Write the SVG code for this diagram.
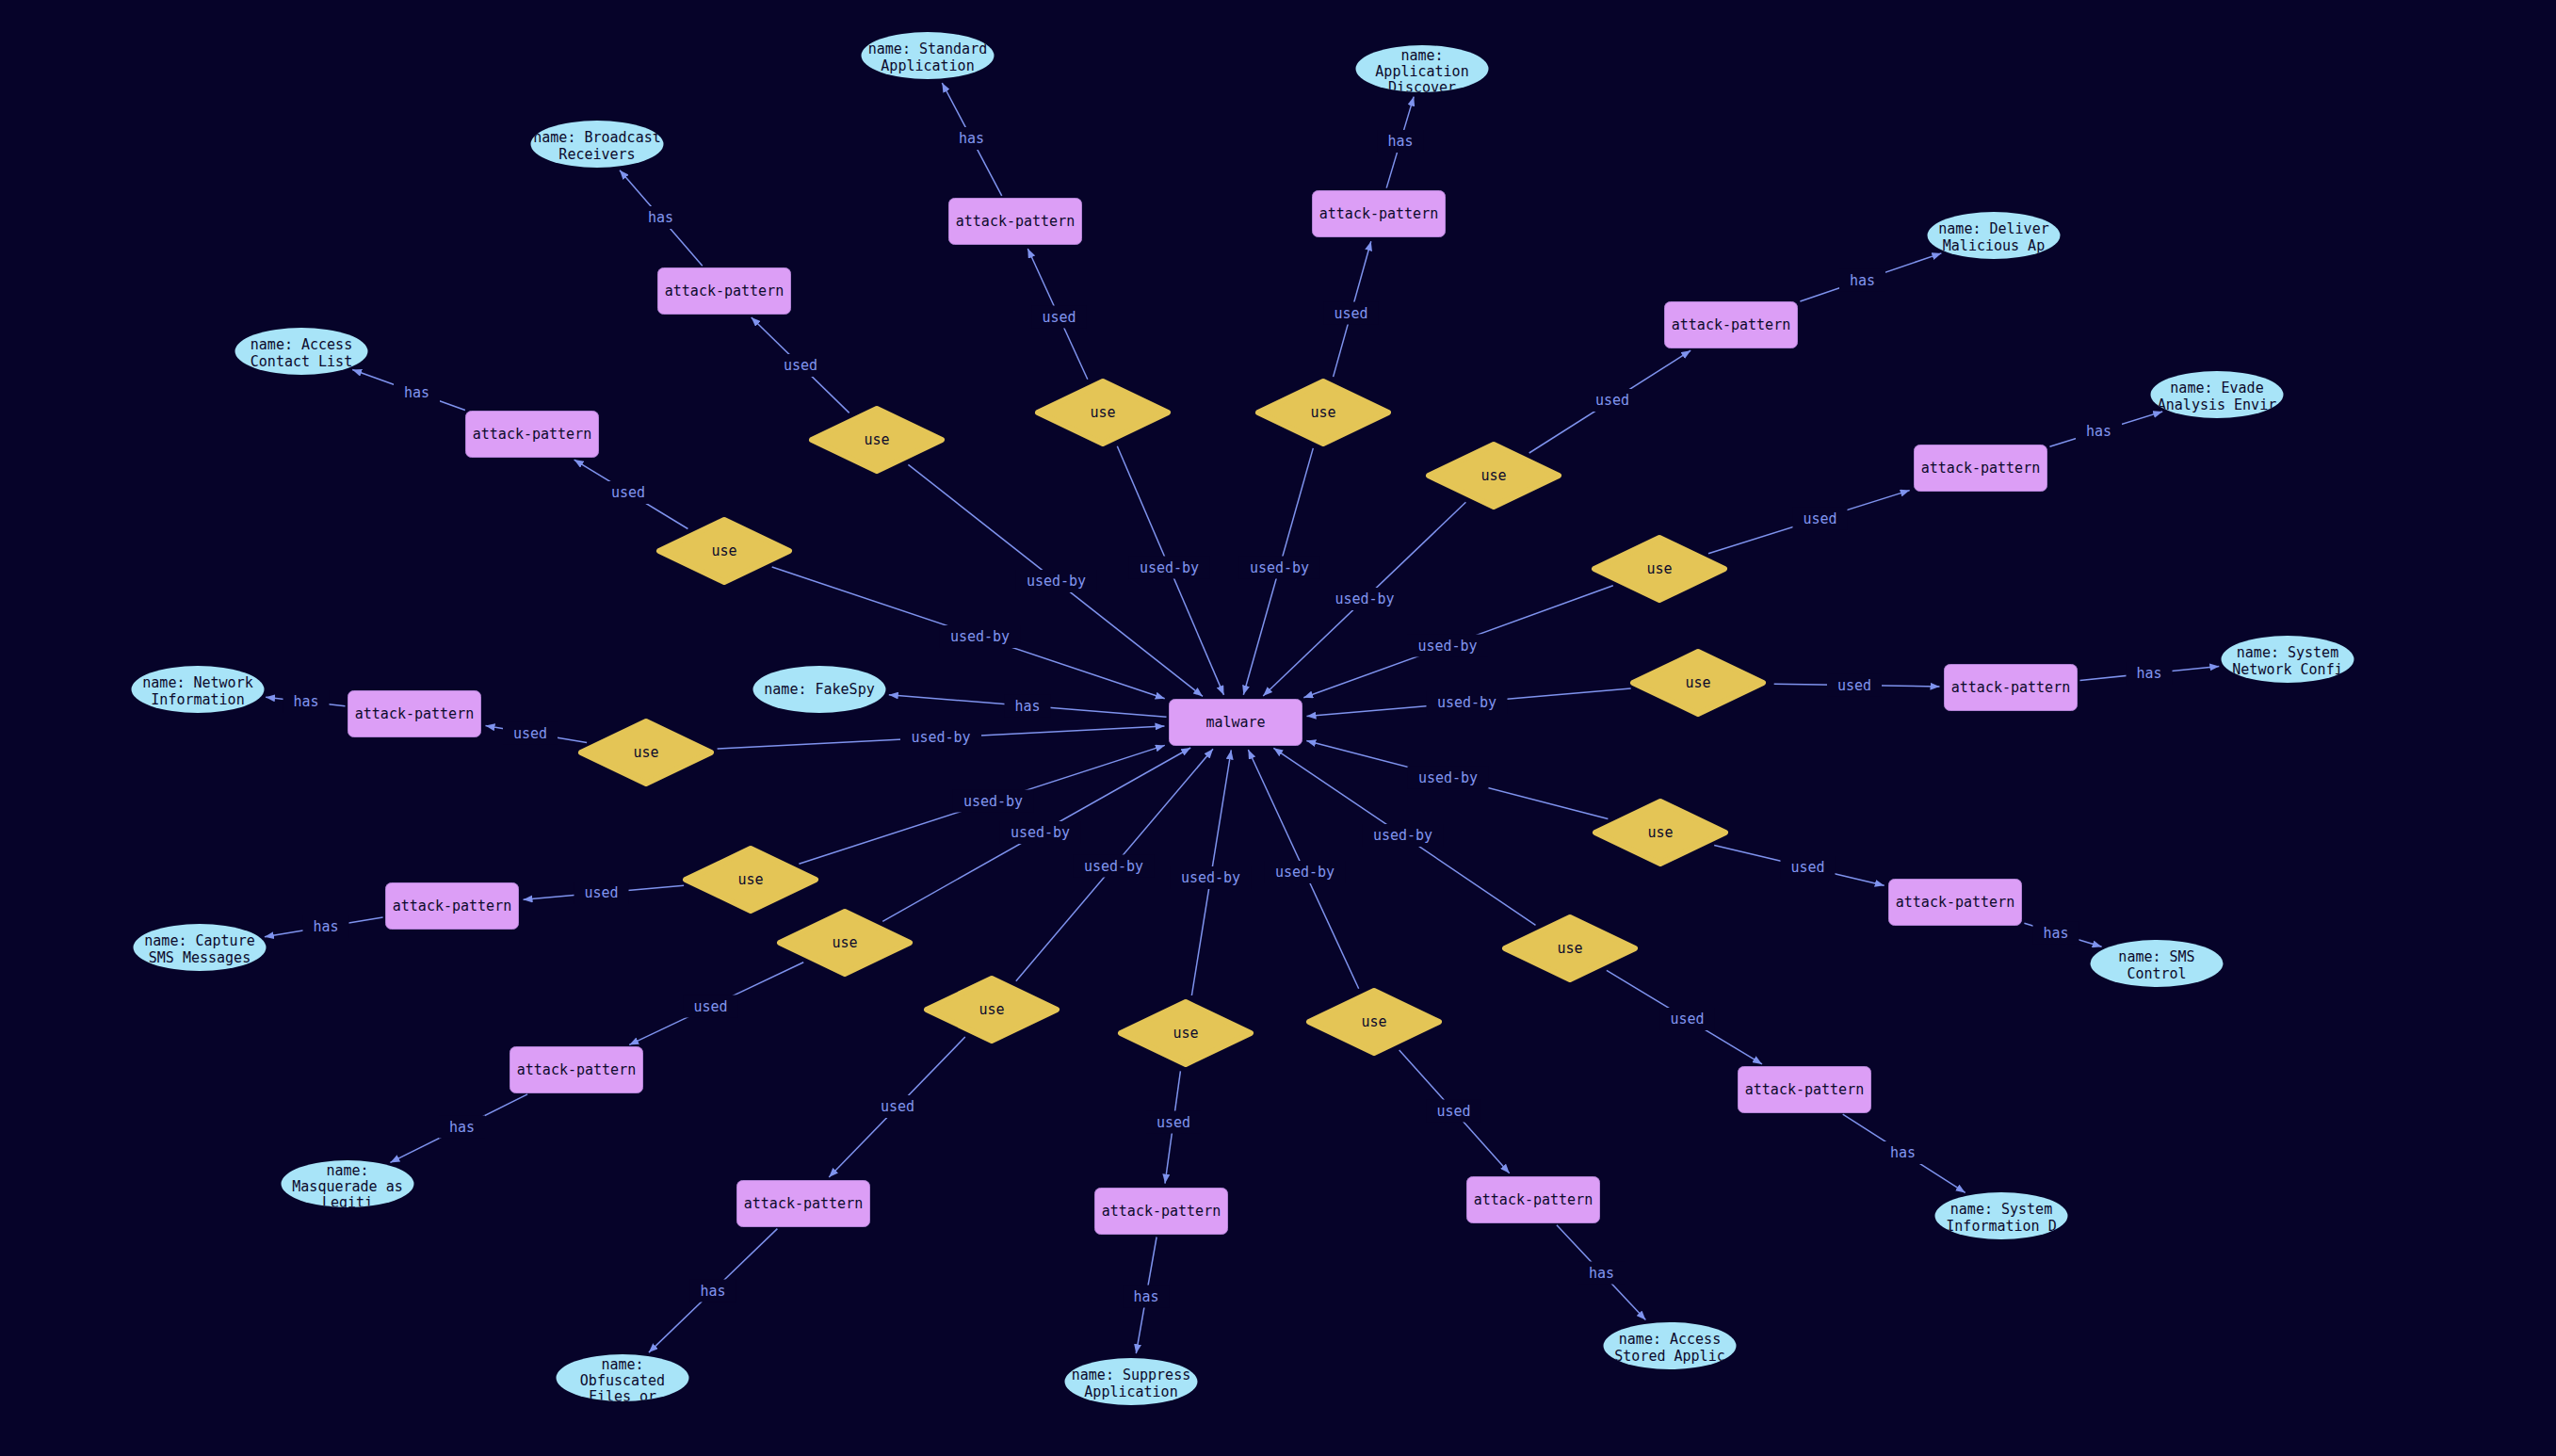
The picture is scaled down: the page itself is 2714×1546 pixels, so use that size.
<svg xmlns="http://www.w3.org/2000/svg" width="2714" height="1546" viewBox="0 0 2714 1546">
<style>
.t{font-family:"DejaVu Sans Mono","Liberation Mono",monospace;font-size:15px;text-anchor:middle;dominant-baseline:central;fill:#0c0a2c}
.ap{fill:#dc9ef6;stroke:#b283d6;stroke-width:1}
.us{fill:#e4c556;stroke:#e4c556;stroke-width:6;stroke-linejoin:round}
.el{fill:#a8e4f8}
.e line{stroke:#7f93ee;stroke-width:1.5;marker-end:url(#ah)}
.lb text{font-family:"DejaVu Sans Mono","Liberation Mono",monospace;font-size:15px;text-anchor:middle;dominant-baseline:central;fill:#8296f0}
</style>
<defs>
<marker id="ah" markerWidth="10" markerHeight="8" refX="10" refY="4" orient="auto" markerUnits="userSpaceOnUse"><path d="M0,0 L10,4 L0,8 z" fill="#7f93ee"/></marker>
<clipPath id="ec"><ellipse cx="0" cy="0" rx="70.5" ry="25"/></clipPath>
<rect id="lu" x="-43" y="-12" width="86" height="24" fill="#060329"/>
<rect id="ld" x="-29" y="-12" width="58" height="24" fill="#060329"/>
<rect id="lh" x="-24.5" y="-12" width="49" height="24" fill="#060329"/>
</defs>
<rect width="2714" height="1546" fill="#060329"/>
<g id="connectors">
<g class="e">
<line x1="964.4" y1="493.3" x2="1277" y2="739.4"/>
<line x1="1186.3" y1="473.7" x2="1299.5" y2="737.9"/>
<line x1="1394.3" y1="475.9" x2="1320.3" y2="737.7"/>
<line x1="1556.4" y1="533.3" x2="1341.2" y2="739"/>
<line x1="1712.8" y1="621.8" x2="1384.3" y2="740.8"/>
<line x1="1731.7" y1="731.1" x2="1387.5" y2="760.5"/>
<line x1="1707.4" y1="869.6" x2="1387.3" y2="786.5"/>
<line x1="1630.5" y1="982.3" x2="1352.3" y2="794.3"/>
<line x1="1442.7" y1="1049.8" x2="1325.4" y2="796"/>
<line x1="1265.4" y1="1057" x2="1307.3" y2="796.4"/>
<line x1="1078.8" y1="1041.7" x2="1288" y2="795.3"/>
<line x1="937.2" y1="978.3" x2="1264.2" y2="794"/>
<line x1="848.4" y1="917.3" x2="1236.8" y2="791.4"/>
<line x1="761.6" y1="795.1" x2="1236.5" y2="770.9"/>
<line x1="819.7" y1="602" x2="1236.7" y2="741.8"/>
<line x1="1238.5" y1="761.2" x2="943.8" y2="737.8"/>
<line x1="901.7" y1="438.4" x2="797.7" y2="337"/>
<line x1="1154.8" y1="402.7" x2="1091.3" y2="264"/>
<line x1="1415.6" y1="400.1" x2="1455.8" y2="256.3"/>
<line x1="1623.7" y1="481" x2="1795.2" y2="372.2"/>
<line x1="1814" y1="587.7" x2="2027.7" y2="520.6"/>
<line x1="1883.7" y1="726.2" x2="2059.5" y2="728.9"/>
<line x1="1820.2" y1="897.5" x2="2000.7" y2="940.2"/>
<line x1="1705.9" y1="1030.4" x2="1871" y2="1129.9"/>
<line x1="1485.7" y1="1114.9" x2="1602.7" y2="1245.7"/>
<line x1="1253.4" y1="1137.4" x2="1237" y2="1256.6"/>
<line x1="1024.8" y1="1101.1" x2="880.2" y2="1249.9"/>
<line x1="853.2" y1="1021.8" x2="668.2" y2="1109.4"/>
<line x1="726.1" y1="940.3" x2="555.5" y2="955.3"/>
<line x1="623.1" y1="788.5" x2="515.5" y2="770.6"/>
<line x1="730.4" y1="561.5" x2="609.6" y2="488.1"/>
<line x1="745.8" y1="282.2" x2="658" y2="180.7"/>
<line x1="1063.7" y1="207.9" x2="1000.3" y2="88"/>
<line x1="1472.2" y1="199.6" x2="1501.2" y2="102.6"/>
<line x1="1911.4" y1="320" x2="2061.4" y2="268.9"/>
<line x1="2176.4" y1="474.2" x2="2296.2" y2="437"/>
<line x1="2208.5" y1="722.5" x2="2356.3" y2="707.4"/>
<line x1="2149.4" y1="980.3" x2="2231.6" y2="1005.3"/>
<line x1="1956.7" y1="1183.1" x2="2086.7" y2="1266.4"/>
<line x1="1652.9" y1="1300.7" x2="1747.4" y2="1401.6"/>
<line x1="1228.1" y1="1313.5" x2="1206.3" y2="1437.2"/>
<line x1="825.4" y1="1304.6" x2="688.9" y2="1436.1"/>
<line x1="560.1" y1="1161.9" x2="414.4" y2="1234.4"/>
<line x1="406.6" y1="974.1" x2="280.9" y2="994.7"/>
<line x1="366.5" y1="749.7" x2="282.1" y2="740.2"/>
<line x1="493.9" y1="435.5" x2="374.2" y2="392.5"/>
</g>
<g class="lb">
<g transform="translate(1121.5,617)"><use href="#lu"/><text>used-by</text></g>
<g transform="translate(1241.5,602.5)"><use href="#lu"/><text>used-by</text></g>
<g transform="translate(1358.5,602.5)"><use href="#lu"/><text>used-by</text></g>
<g transform="translate(1449,636)"><use href="#lu"/><text>used-by</text></g>
<g transform="translate(1537,685.5)"><use href="#lu"/><text>used-by</text></g>
<g transform="translate(1557.5,746)"><use href="#lu"/><text>used-by</text></g>
<g transform="translate(1537.5,825.5)"><use href="#lu"/><text>used-by</text></g>
<g transform="translate(1489.5,887)"><use href="#lu"/><text>used-by</text></g>
<g transform="translate(1385.5,926)"><use href="#lu"/><text>used-by</text></g>
<g transform="translate(1285.5,932)"><use href="#lu"/><text>used-by</text></g>
<g transform="translate(1182.5,919.5)"><use href="#lu"/><text>used-by</text></g>
<g transform="translate(1104.5,884)"><use href="#lu"/><text>used-by</text></g>
<g transform="translate(1054.5,850.5)"><use href="#lu"/><text>used-by</text></g>
<g transform="translate(999,783)"><use href="#lu"/><text>used-by</text></g>
<g transform="translate(1040.5,676)"><use href="#lu"/><text>used-by</text></g>
<g transform="translate(1091,749.5)"><use href="#lh"/><text>has</text></g>
<g transform="translate(850,388)"><use href="#ld"/><text>used</text></g>
<g transform="translate(1124.5,336.5)"><use href="#ld"/><text>used</text></g>
<g transform="translate(1434.5,332.5)"><use href="#ld"/><text>used</text></g>
<g transform="translate(1712,425)"><use href="#ld"/><text>used</text></g>
<g transform="translate(1932.5,550.5)"><use href="#ld"/><text>used</text></g>
<g transform="translate(1969,727.5)"><use href="#ld"/><text>used</text></g>
<g transform="translate(1919.5,921)"><use href="#ld"/><text>used</text></g>
<g transform="translate(1791.5,1082)"><use href="#ld"/><text>used</text></g>
<g transform="translate(1543.5,1179.5)"><use href="#ld"/><text>used</text></g>
<g transform="translate(1246,1191.5)"><use href="#ld"/><text>used</text></g>
<g transform="translate(953,1175)"><use href="#ld"/><text>used</text></g>
<g transform="translate(754.5,1068.5)"><use href="#ld"/><text>used</text></g>
<g transform="translate(638.5,948)"><use href="#ld"/><text>used</text></g>
<g transform="translate(563,778.5)"><use href="#ld"/><text>used</text></g>
<g transform="translate(667,523)"><use href="#ld"/><text>used</text></g>
<g transform="translate(701.5,231)"><use href="#lh"/><text>has</text></g>
<g transform="translate(1031.5,147)"><use href="#lh"/><text>has</text></g>
<g transform="translate(1487,150)"><use href="#lh"/><text>has</text></g>
<g transform="translate(1977.5,297.5)"><use href="#lh"/><text>has</text></g>
<g transform="translate(2228.5,458)"><use href="#lh"/><text>has</text></g>
<g transform="translate(2282,715)"><use href="#lh"/><text>has</text></g>
<g transform="translate(2183,990.5)"><use href="#lh"/><text>has</text></g>
<g transform="translate(2020.5,1224)"><use href="#lh"/><text>has</text></g>
<g transform="translate(1700.5,1351.5)"><use href="#lh"/><text>has</text></g>
<g transform="translate(1217,1376.5)"><use href="#lh"/><text>has</text></g>
<g transform="translate(757,1370.5)"><use href="#lh"/><text>has</text></g>
<g transform="translate(490.5,1196.5)"><use href="#lh"/><text>has</text></g>
<g transform="translate(346,984)"><use href="#lh"/><text>has</text></g>
<g transform="translate(325,745)"><use href="#lh"/><text>has</text></g>
<g transform="translate(442.5,417)"><use href="#lh"/><text>has</text></g>
</g>
</g>
<g id="malware" transform="translate(1312,767)"><rect class="ap" x="-70.5" y="-24.5" width="141" height="49" rx="6"/><text class="t">malware</text></g>
<g id="fakespy" transform="translate(870,732)"><ellipse class="el" rx="70.5" ry="25"/><text class="t" clip-path="url(#ec)">name: FakeSpy</text></g>
<g id="use1" transform="translate(931,467)"><polygon class="us" points="0,-33 69,0 0,33 -69,0"/><text class="t">use</text></g>
<g id="use2" transform="translate(1171,438)"><polygon class="us" points="0,-33 69,0 0,33 -69,0"/><text class="t">use</text></g>
<g id="use3" transform="translate(1405,438)"><polygon class="us" points="0,-33 69,0 0,33 -69,0"/><text class="t">use</text></g>
<g id="use4" transform="translate(1586,505)"><polygon class="us" points="0,-33 69,0 0,33 -69,0"/><text class="t">use</text></g>
<g id="use5" transform="translate(1762,604)"><polygon class="us" points="0,-33 69,0 0,33 -69,0"/><text class="t">use</text></g>
<g id="use6" transform="translate(1803,725)"><polygon class="us" points="0,-33 69,0 0,33 -69,0"/><text class="t">use</text></g>
<g id="use7" transform="translate(1763,884)"><polygon class="us" points="0,-33 69,0 0,33 -69,0"/><text class="t">use</text></g>
<g id="use8" transform="translate(1667,1007)"><polygon class="us" points="0,-33 69,0 0,33 -69,0"/><text class="t">use</text></g>
<g id="use9" transform="translate(1459,1085)"><polygon class="us" points="0,-33 69,0 0,33 -69,0"/><text class="t">use</text></g>
<g id="use10" transform="translate(1259,1097)"><polygon class="us" points="0,-33 69,0 0,33 -69,0"/><text class="t">use</text></g>
<g id="use11" transform="translate(1053,1072)"><polygon class="us" points="0,-33 69,0 0,33 -69,0"/><text class="t">use</text></g>
<g id="use12" transform="translate(897,1001)"><polygon class="us" points="0,-33 69,0 0,33 -69,0"/><text class="t">use</text></g>
<g id="use13" transform="translate(797,934)"><polygon class="us" points="0,-33 69,0 0,33 -69,0"/><text class="t">use</text></g>
<g id="use14" transform="translate(686,799)"><polygon class="us" points="0,-33 69,0 0,33 -69,0"/><text class="t">use</text></g>
<g id="use15" transform="translate(769,585)"><polygon class="us" points="0,-33 69,0 0,33 -69,0"/><text class="t">use</text></g>
<g id="ap1" transform="translate(769,309)"><rect class="ap" x="-70.5" y="-24.5" width="141" height="49" rx="6"/><text class="t">attack-pattern</text></g>
<g id="ap2" transform="translate(1078,235)"><rect class="ap" x="-70.5" y="-24.5" width="141" height="49" rx="6"/><text class="t">attack-pattern</text></g>
<g id="ap3" transform="translate(1464,227)"><rect class="ap" x="-70.5" y="-24.5" width="141" height="49" rx="6"/><text class="t">attack-pattern</text></g>
<g id="ap4" transform="translate(1838,345)"><rect class="ap" x="-70.5" y="-24.5" width="141" height="49" rx="6"/><text class="t">attack-pattern</text></g>
<g id="ap5" transform="translate(2103,497)"><rect class="ap" x="-70.5" y="-24.5" width="141" height="49" rx="6"/><text class="t">attack-pattern</text></g>
<g id="ap6" transform="translate(2135,730)"><rect class="ap" x="-70.5" y="-24.5" width="141" height="49" rx="6"/><text class="t">attack-pattern</text></g>
<g id="ap7" transform="translate(2076,958)"><rect class="ap" x="-70.5" y="-24.5" width="141" height="49" rx="6"/><text class="t">attack-pattern</text></g>
<g id="ap8" transform="translate(1916,1157)"><rect class="ap" x="-70.5" y="-24.5" width="141" height="49" rx="6"/><text class="t">attack-pattern</text></g>
<g id="ap9" transform="translate(1628,1274)"><rect class="ap" x="-70.5" y="-24.5" width="141" height="49" rx="6"/><text class="t">attack-pattern</text></g>
<g id="ap10" transform="translate(1233,1286)"><rect class="ap" x="-70.5" y="-24.5" width="141" height="49" rx="6"/><text class="t">attack-pattern</text></g>
<g id="ap11" transform="translate(853,1278)"><rect class="ap" x="-70.5" y="-24.5" width="141" height="49" rx="6"/><text class="t">attack-pattern</text></g>
<g id="ap12" transform="translate(612,1136)"><rect class="ap" x="-70.5" y="-24.5" width="141" height="49" rx="6"/><text class="t">attack-pattern</text></g>
<g id="ap13" transform="translate(480,962)"><rect class="ap" x="-70.5" y="-24.5" width="141" height="49" rx="6"/><text class="t">attack-pattern</text></g>
<g id="ap14" transform="translate(440,758)"><rect class="ap" x="-70.5" y="-24.5" width="141" height="49" rx="6"/><text class="t">attack-pattern</text></g>
<g id="ap15" transform="translate(565,461)"><rect class="ap" x="-70.5" y="-24.5" width="141" height="49" rx="6"/><text class="t">attack-pattern</text></g>
<g id="name1" transform="translate(634,153)"><ellipse class="el" rx="70.5" ry="25"/><g clip-path="url(#ec)"><text class="t" y="-7">name: Broadcast</text><text class="t" y="11">Receivers</text></g></g>
<g id="name2" transform="translate(985,59)"><ellipse class="el" rx="70.5" ry="25"/><g clip-path="url(#ec)"><text class="t" y="-7">name: Standard</text><text class="t" y="11">Application</text></g></g>
<g id="name3" transform="translate(1510,73)"><ellipse class="el" rx="70.5" ry="25"/><g clip-path="url(#ec)"><text class="t" y="-14">name:</text><text class="t" y="3">Application</text><text class="t" y="20">Discover</text></g></g>
<g id="name4" transform="translate(2117,250)"><ellipse class="el" rx="70.5" ry="25"/><g clip-path="url(#ec)"><text class="t" y="-7">name: Deliver</text><text class="t" y="11">Malicious Ap</text></g></g>
<g id="name5" transform="translate(2354,419)"><ellipse class="el" rx="70.5" ry="25"/><g clip-path="url(#ec)"><text class="t" y="-7">name: Evade</text><text class="t" y="11">Analysis Envir</text></g></g>
<g id="name6" transform="translate(2429,700)"><ellipse class="el" rx="70.5" ry="25"/><g clip-path="url(#ec)"><text class="t" y="-7">name: System</text><text class="t" y="11">Network Confi</text></g></g>
<g id="name7" transform="translate(2290,1023)"><ellipse class="el" rx="70.5" ry="25"/><g clip-path="url(#ec)"><text class="t" y="-7">name: SMS</text><text class="t" y="11">Control</text></g></g>
<g id="name8" transform="translate(2125,1291)"><ellipse class="el" rx="70.5" ry="25"/><g clip-path="url(#ec)"><text class="t" y="-7">name: System</text><text class="t" y="11">Information D</text></g></g>
<g id="name9" transform="translate(1773,1429)"><ellipse class="el" rx="70.5" ry="25"/><g clip-path="url(#ec)"><text class="t" y="-7">name: Access</text><text class="t" y="11">Stored Applic</text></g></g>
<g id="name10" transform="translate(1201,1467)"><ellipse class="el" rx="70.5" ry="25"/><g clip-path="url(#ec)"><text class="t" y="-7">name: Suppress</text><text class="t" y="11">Application</text></g></g>
<g id="name11" transform="translate(661,1463)"><ellipse class="el" rx="70.5" ry="25"/><g clip-path="url(#ec)"><text class="t" y="-14">name:</text><text class="t" y="3">Obfuscated</text><text class="t" y="20">Files or</text></g></g>
<g id="name12" transform="translate(369,1257)"><ellipse class="el" rx="70.5" ry="25"/><g clip-path="url(#ec)"><text class="t" y="-14">name:</text><text class="t" y="3">Masquerade as</text><text class="t" y="20">Legiti</text></g></g>
<g id="name13" transform="translate(212,1006)"><ellipse class="el" rx="70.5" ry="25"/><g clip-path="url(#ec)"><text class="t" y="-7">name: Capture</text><text class="t" y="11">SMS Messages</text></g></g>
<g id="name14" transform="translate(210,732)"><ellipse class="el" rx="70.5" ry="25"/><g clip-path="url(#ec)"><text class="t" y="-7">name: Network</text><text class="t" y="11">Information</text></g></g>
<g id="name15" transform="translate(320,373)"><ellipse class="el" rx="70.5" ry="25"/><g clip-path="url(#ec)"><text class="t" y="-7">name: Access</text><text class="t" y="11">Contact List</text></g></g>
</svg>
